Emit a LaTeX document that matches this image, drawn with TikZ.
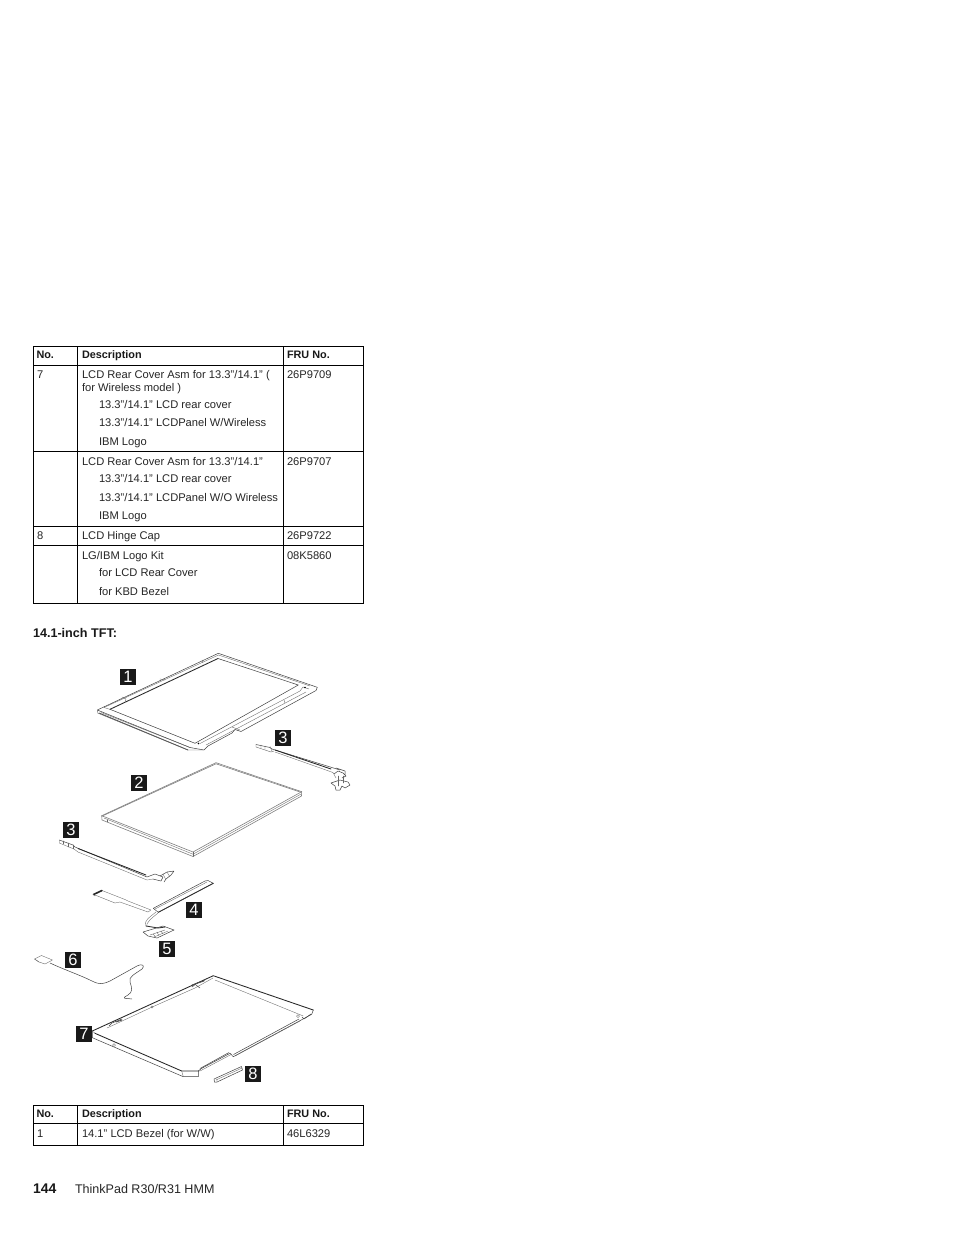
\documentclass[tikz,border=0pt]{standalone}
\usepackage{fontspec}
\setmainfont{Liberation Sans}
\tikzset{
 txt/.style={anchor=base west,inner sep=0pt,outer sep=0pt,font=\fontsize{11.15}{12}\selectfont,text=black!85},
 hdr/.style={txt,font=\fontsize{10.85}{12}\selectfont\bfseries,text=black!90},
 tab/.style={line width=0.9pt,black},
 tag/.style={fill=black!90,text=white,minimum size=16pt,inner sep=0pt,font=\fontsize{16.5}{16}\selectfont},
 part/.style={line width=0.5pt,black!75,line join=round,line cap=round},
 thin part/.style={line width=0.35pt,black!60,line join=round,line cap=round},
 heavy/.style={line width=0.85pt,black!85,line join=round,line cap=round},
 graypart/.style={line width=0.6pt,black!50,line join=round,line cap=round}
}
\begin{document}
\begin{tikzpicture}[x=1pt,y=-1pt]
\useasboundingbox (0,0) rectangle (954,1235);
\fill[white] (0,0) rectangle (954,1235);
% upper table
\draw[tab] (33.4,346.7) rectangle (363.4,603.3);
\draw[tab] (77.3,346.7) -- (77.3,603.3);
\draw[tab] (283.3,346.7) -- (283.3,603.3);
\foreach \yy in {365.3,451.3,526,545.3} \draw[tab] (33.4,\yy) -- (363.4,\yy);
\node[hdr] (h1) at (36.5,358) {No.};
\node[hdr] (h2) at (82,358) {Description};
\node[hdr] (h3) at (287,358) {FRU No.};
\node[txt] (a1) at (37,378) {7};
\node[txt] (a2) at (82,378) {LCD Rear Cover Asm for 13.3”/14.1” (};
\node[txt] (a3) at (82,391) {for Wireless model )};
\node[txt] (a4) at (99,408.3) {13.3”/14.1” LCD rear cover};
\node[txt] (a5) at (99,426.3) {13.3”/14.1” LCDPanel W/Wireless};
\node[txt] (a6) at (99,445) {IBM Logo};
\node[txt] (a7) at (287,378) {26P9709};
\node[txt] (b1) at (82,465) {LCD Rear Cover Asm for 13.3”/14.1”};
\node[txt] (b2) at (99,482.3) {13.3”/14.1” LCD rear cover};
\node[txt] (b3) at (99,501) {13.3”/14.1” LCDPanel W/O Wireless};
\node[txt] (b4) at (99,519) {IBM Logo};
\node[txt] (b5) at (287,465) {26P9707};
\node[txt] (c1) at (37,539) {8};
\node[txt] (c2) at (82,539) {LCD Hinge Cap};
\node[txt] (c3) at (287,539) {26P9722};
\node[txt] (d1) at (82,559) {LG/IBM Logo Kit};
\node[txt] (d2) at (99,576.3) {for LCD Rear Cover};
\node[txt] (d3) at (99,595) {for KBD Bezel};
\node[txt] (d4) at (287,559) {08K5860};
\node[hdr,font=\fontsize{12.6}{14}\selectfont\bfseries] (head) at (33,637.7) {14.1-inch TFT:};
% lower table
\draw[tab] (33.4,1105.7) rectangle (363.4,1145);
\draw[tab] (77.3,1105.7) -- (77.3,1145);
\draw[tab] (283.3,1105.7) -- (283.3,1145);
\draw[tab] (33.4,1123.3) -- (363.4,1123.3);
\node[hdr] (e1) at (36.5,1117) {No.};
\node[hdr] (e2) at (82,1117) {Description};
\node[hdr] (e3) at (287,1117) {FRU No.};
\node[txt] (f1) at (37,1137.3) {1};
\node[txt] (f2) at (82,1137.3) {14.1” LCD Bezel (for W/W)};
\node[txt] (f3) at (287,1137.3) {46L6329};
\node[hdr,font=\fontsize{14}{15}\selectfont\bfseries] (pg) at (33,1193) {144};
\node[txt,font=\fontsize{12.55}{14}\selectfont] (ft) at (75,1193) {ThinkPad R30/R31 HMM};
% tags
\node[tag] (t1) at (128,677) {1};
\node[tag] (t2) at (139,783) {2};
\node[tag] (t3) at (283,738) {3};
\node[tag] (t3b) at (71,830) {3};
\node[tag] (t4) at (194,910) {4};
\node[tag] (t5) at (167,949) {5};
\node[tag] (t6) at (73,960) {6};
\node[tag] (t7) at (84,1034) {7};
\node[tag] (t8) at (253,1074) {8};
% bezel (1)
\draw[part] (97.3,710) -- (218.3,653.3) -- (317.3,687.3) -- (316,690.5) -- (241,731.5) -- (235,729.5) -- (232,733) -- (208,746) -- (204,750) -- (190,747.5) -- cycle;
\draw[heavy] (110,709.3) -- (218,658.5);
\draw[thin part] (104,707.5) -- (218.5,655);
\draw[thin part] (218.5,655) -- (310,686);
\draw[part] (218,658.5) -- (298.3,685) -- (195,743.3) -- (110,709.3);
\draw[thin part] (200,743.5) -- (300,691) -- (303,687) -- (309,689);
\draw[thin part] (206,745) -- (306,692) ;
\draw[heavy,black!70] (99,713) -- (188,750);
\draw[thin part] (97.3,710) -- (97.5,713) -- (188,750) -- (203,750);
\draw[thin part] (101,712.5) -- (190,747.5);
\draw[thin part] (104,707.5) -- (110,709.3);
\draw[thin part] (122,697) -- (126,699) -- (125,702) (160,679) -- (165,680) (202,660) -- (203,663);
\draw[thin part] (232,727) -- (240,730) (284,700) -- (285,703);
\fill[black] (198.5,743.5) circle (0.8) (305,687.5) circle (0.8);
% panel (2)
\draw[graypart] (101.7,815.7) -- (216,762.7) -- (301.7,791.7);
\draw[graypart] (103,815.7) -- (216,763.8) -- (299.5,791.8);
\draw[graypart] (101.7,815.7) -- (193,852) -- (301.7,791.7) -- (301.5,796) -- (193,856.5) -- (102,820) -- cycle;
\draw[thin part] (107,820) -- (107,822) (193,852) -- (193,856.5);
\draw[thin part] (104,818) -- (193,854.2) -- (301.5,793.8);
% hinge (3) right
\draw[part] (256,744.5) -- (270,747.5) -- (272,749) -- (340,770);
\draw[heavy] (275,750) -- (331,769);
\draw[thin part] (256,744.5) -- (256,747) -- (271,752) -- (274,751);
\draw[thin part] (270,746.5) -- (272,751) (261,745) -- (261,748) (265,746) -- (265,749.5);
\draw[thin part] (275,752) -- (333,772.5) -- (336,778);
\draw[part] (334,774) -- (338,771) -- (343,773) -- (346,776) -- (342,778) (336,768) -- (345,771) -- (345,775);
\draw[part] (331,783) -- (340,780) -- (348,782) -- (350,785) -- (345,788) -- (342,786) -- (340,790) -- (336,790) -- (335,786) -- cycle;
\draw[thin part] (338,776) -- (338,786) (343,776) -- (343,783);
% hinge (3) left
\draw[part] (59.3,840) -- (73,845) -- (75,847) -- (147,877);
\draw[heavy] (78,848.5) -- (146,875);
\draw[thin part] (59.3,840) -- (59.3,843) -- (74,849) -- (78,852) -- (147,880) -- (153,879);
\draw[thin part] (63,841) -- (63,844) (68,843) -- (68,847) (73,845) -- (73,849);
\draw[part] (147,877) -- (155,874) -- (163,877) -- (161,881) -- (153,879);
\draw[part] (160,876) -- (167,872) -- (174,871) -- (171,875) -- (166,879) -- (164,882);
\draw[thin part] (163,874) -- (166,880) (167,872) -- (170,877);
% cable & board (4)
\draw[heavy,line width=1.6pt] (93.5,894.5) -- (102,890.5);
\draw[thin part] (93.3,894.3) -- (95,896) (102,890.5) -- (125,899.5) -- (128,901) -- (151,910) -- (148,912) -- (120,902) -- (115,903) -- (95,895);
\draw[part] (153.3,908.3) -- (205,881) -- (208,880.5) -- (213.3,883.3) -- (158.3,912.3) -- cycle;
\draw[heavy,black!80] (158.3,912.3) -- (213.3,883.3);
\draw[thin part] (155,909) -- (207,882);
\draw[thin part] (156,912) .. controls (150,917) and (143,921) .. (146,926) (158,913) .. controls (152,918) and (145,923) .. (147,927);
% item 5
\draw[part] (143,932) -- (163,926) -- (174,930) -- (157,938) -- (148,936) -- cycle;
\draw[heavy,black!80] (146,926) -- (158,928) -- (165,927);
\draw[thin part] (150,935) -- (165,930) (154,937) -- (168,931) (153,934) -- (155,936) (157,932) -- (159,936) (161,931) -- (163,934);
% antenna (6)
\draw[thin part] (34.5,959) -- (41.5,955.5) -- (52.5,960) -- (45,964) -- (39,962) -- cycle;
\draw[thin part] (34.5,959) -- (39,962);
\draw[part] (50,963) .. controls (65,970) and (80,975) .. (92,981) .. controls (100,985) and (103,984) .. (110,981) -- (137,966) .. controls (143,963) and (145,966) .. (142,969) .. controls (135,974) and (128,977) .. (130,982) .. controls (132,988) and (133,992) .. (128,995) .. controls (121,999) and (124,998) .. (132,999);
% rear cover (7)
\draw[heavy] (92.3,1031) -- (213.3,975.7) -- (313.3,1010) ;
\draw[part] (313.3,1010) -- (311.7,1014.3) -- (233.3,1056.7) -- (230,1053.3) -- (201.7,1068.3) -- (198.3,1071) -- (198.3,1076.7) -- (183.3,1076.7) -- (92.3,1037.7) -- (92.3,1031);
\draw[heavy] (95,1033.3) -- (181.7,1071) -- (199,1071);
\draw[thin part] (183.3,1076.7) -- (181.7,1071);
\draw[thin part] (95,1033.3) -- (92.3,1031);
\draw[thin part] (215,980) -- (303.3,1016);
\draw[thin part] (107,1028) -- (120,1022) -- (150,1008) -- (195,988) -- (213,978);
\draw[part] (109,1026) -- (112,1023) -- (122,1019) (192,987) -- (197,983) -- (205,980) (196,985) -- (200,988);
\draw[heavy,black!70] (116,1022) -- (122,1020) (192,985) -- (204,981);
\draw[thin part] (152,1007) circle (1.2) (114,1045) circle (1.5) (298,1016) circle (1.5);
\draw[part] (200,1068.5) -- (229,1052.5) (233.5,1054.5) -- (299,1019) (302,1017) -- (304,1019) -- (311,1014);
\draw[thin part] (200,1071) -- (232,1054) (235,1056) -- (300,1021);
% hinge cap (8)
\draw[part] (214,1079) -- (241.5,1066.5) -- (242.5,1070) -- (217,1082) -- (214.5,1082) -- cycle;
\draw[thin part] (216,1080) -- (242,1068) (217,1079) -- (217,1082);
\end{tikzpicture}
\end{document}
